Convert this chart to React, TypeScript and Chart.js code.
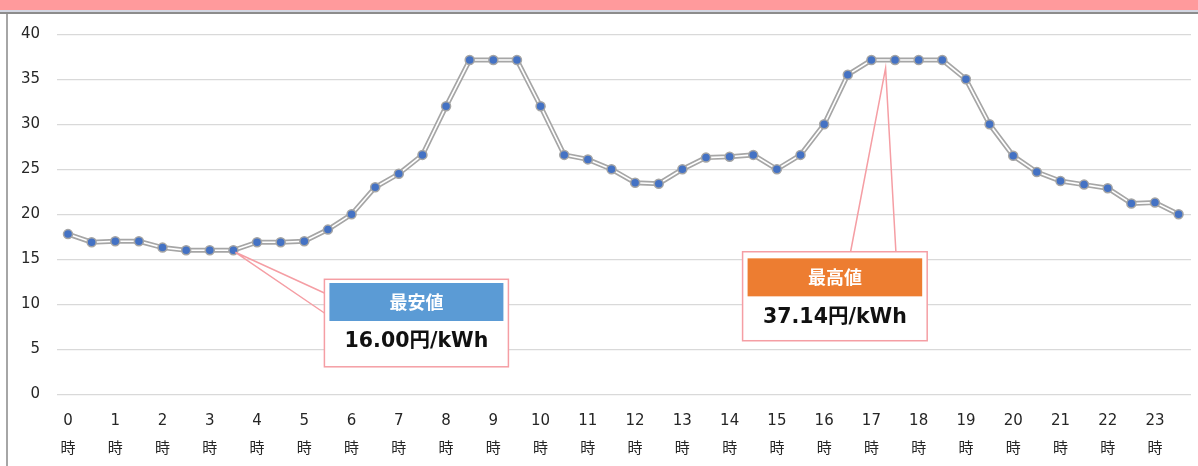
import React, { useEffect, useRef } from 'react';
import { Chart, registerables } from 'chart.js';

Chart.register(...registerables);

// ---- data ----
const hourLabels = ['0', '1', '2', '3', '4', '5', '6', '7', '8', '9', '10', '11', '12', '13', '14', '15', '16', '17', '18', '19', '20', '21', '22', '23'];
const hourSuffix = '時';
// half-hourly prices (円/kWh), 0:00 .. 23:30
const prices = [
  17.8, 16.9, 17.0, 17.0, 16.3, 16.0, 16.0, 16.0, 16.9, 16.9, 17.0, 18.3, 20.0,
  23.0, 24.5, 26.6, 32.0, 37.14, 37.14, 37.14, 32.0, 26.6, 26.1, 25.0,
  23.5, 23.4, 25.0, 26.3, 26.4, 26.6, 25.0, 26.6,
  30.0, 35.5, 37.14, 37.14, 37.14, 37.14, 35.0, 30.0,
  26.5, 24.7, 23.7, 23.3, 22.9, 21.2, 21.3, 20.0,
];
const yTicks = [0, 5, 10, 15, 20, 25, 30, 35, 40];
const calloutTitles = ['最安値', '最高値'];
const calloutValues = ['16.00円/kWh', '37.14円/kWh'];
const calloutAnchorX = [7, 34.6];
const calloutAnchorY = [16.0, 37.14];

const FONT = "'DejaVu Sans', 'Noto Sans CJK JP', sans-serif";
const CJK_BOLD = "'Noto Sans CJK JP', 'DejaVu Sans', sans-serif";

const calloutPlugin = {
  id: 'callouts',
  afterDatasetsDraw(chart: any) {
    const { ctx, scales } = chart;
    const xs = scales.x;
    const ys = scales.y;
    const colors = ['#5b9bd5', '#ed7d31'];
    const border = '#f59ea4';
    calloutTitles.forEach((title, i) => {
      const tx = xs.getPixelForValue(calloutAnchorX[i]) + (i === 0 ? 2 : 0);
      const ty = ys.getPixelForValue(calloutAnchorY[i]) + (i === 0 ? 2 : 8);
      let left: number, top: number, w: number, h: number;
      let b1: [number, number], b2: [number, number];
      if (i === 0) {
        left = tx + 89; top = ty + 27; w = 184; h = 87.5;
        b1 = [left, top + 13.7];
        b2 = [left, top + 33.7];
      } else {
        left = tx - 143; top = ty + 183.7; w = 184.6; h = 89;
        b1 = [left + 108, top];
        b2 = [left + 153.3, top];
      }
      ctx.save();
      ctx.fillStyle = '#ffffff';
      ctx.fillRect(left, top, w, h);
      ctx.strokeStyle = border;
      ctx.lineWidth = 1.5;
      ctx.strokeRect(left, top, w, h);
      ctx.beginPath();
      ctx.moveTo(b1[0], b1[1]);
      ctx.lineTo(tx, ty);
      ctx.lineTo(b2[0], b2[1]);
      ctx.stroke();
      const hx = left + 5, hy = top + (i === 0 ? 3.7 : 6.6), hw = w - 10, hh = 38;
      ctx.fillStyle = colors[i];
      ctx.fillRect(hx, hy, hw, hh);
      ctx.fillStyle = '#ffffff';
      ctx.font = `bold 18px ${CJK_BOLD}`;
      ctx.textAlign = 'center';
      ctx.textBaseline = 'middle';
      ctx.fillText(title, hx + hw / 2, hy + hh / 2);
      ctx.fillStyle = '#111111';
      ctx.font = `bold 20.5px ${FONT}`;
      ctx.fillText(calloutValues[i], left + w / 2, hy + hh + 21);
      ctx.restore();
    });
  },
};

export default function App() {
  const ref = useRef<HTMLCanvasElement | null>(null);
  useEffect(() => {
    if (!ref.current) return;
    const pts = prices.map((v, i) => ({ x: i, y: v }));
    const chart = new Chart(ref.current, {
      type: 'line',
      data: {
        datasets: [
          {
            data: pts,
            borderColor: '#ffffff',
            borderWidth: 1.6,
            pointRadius: 4.5,
            pointBackgroundColor: '#4472c4',
            pointBorderColor: '#a5a5a5',
            pointBorderWidth: 1.5,
            tension: 0,
          },
          {
            data: pts,
            borderColor: '#a6a6a6',
            borderWidth: 5,
            pointRadius: 0,
            tension: 0,
          },
        ],
      },
      options: {
        animation: false,
        responsive: true,
        maintainAspectRatio: false,
        events: [],
        layout: { padding: { top: 34.3, right: 7, bottom: 0, left: 0 } },
        plugins: { legend: { display: false }, tooltip: { enabled: false } },
        scales: {
          x: {
            type: 'linear',
            min: -0.4655,
            max: 47.525,
            grid: { display: false, drawTicks: false },
            border: { display: false },
            afterFit: (s: any) => { s.height = 71.7; },
            afterBuildTicks: (s: any) => {
              s.ticks = hourLabels.map((_, h) => ({ value: h * 2 }));
            },
            ticks: {
              autoSkip: false,
              maxRotation: 0,
              padding: 13,
              color: '#262626',
              font: { family: FONT, size: 15, lineHeight: 28 / 15 },
              callback: (v: any) => [hourLabels[Math.round(Number(v) / 2)], hourSuffix],
            },
          },
          y: {
            min: 0,
            max: 40,
            afterFit: (s: any) => { s.width = 57; },
            afterBuildTicks: (s: any) => {
              s.ticks = yTicks.map((v) => ({ value: v }));
            },
            grid: { color: '#d9d9d9', lineWidth: 1.2, drawTicks: false },
            border: { display: false },
            ticks: {
              padding: 17,
              color: '#262626',
              font: { family: FONT, size: 15 },
            },
          },
        },
      },
      plugins: [calloutPlugin],
    } as any);
    return () => chart.destroy();
  }, []);

  return (
    <div style={{ position: 'fixed', left: 0, top: 0, width: 1198, height: 466, background: '#ffffff', overflow: 'hidden' }}>
      <div style={{ position: 'absolute', left: 0, top: 0, width: 1198, height: 9.5, background: '#ff9a9c' }} />
      <div style={{ position: 'absolute', left: 0, top: 9.5, width: 1198, height: 2.5, background: '#d3d6e2' }} />
      <div style={{ position: 'absolute', left: 0, top: 12, width: 1198, height: 2, background: '#8c8c8c' }} />
      <div style={{ position: 'absolute', left: 6, top: 14, width: 2, height: 452, background: '#a6a6a6' }} />
      <div style={{ position: 'absolute', left: 0, top: 0, width: 1198, height: 466 }}>
        <canvas ref={ref} />
      </div>
    </div>
  );
}
